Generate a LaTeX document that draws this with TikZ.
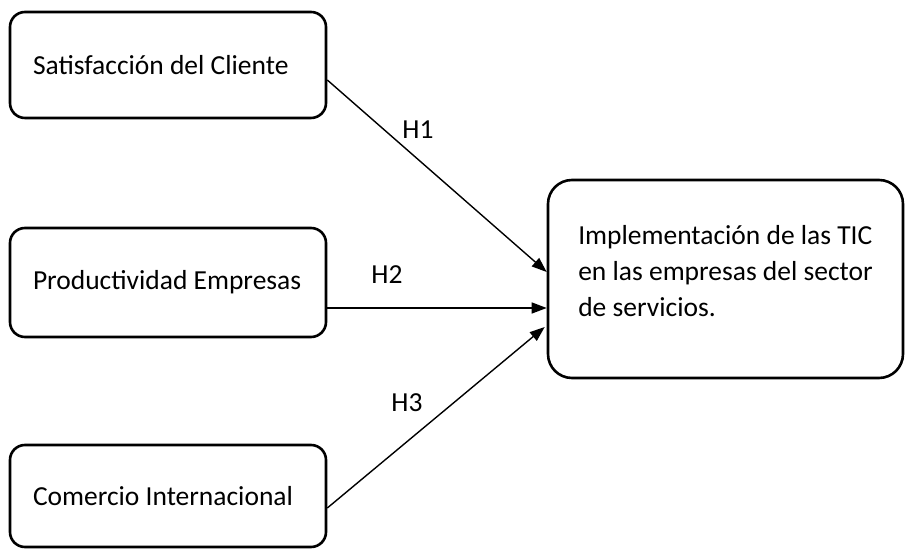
\documentclass[tikz,border=0pt]{standalone}
\usepackage{fontspec}
\setmainfont{Carlito}
\usetikzlibrary{positioning,arrows.meta}

\begin{document}
\begin{tikzpicture}[x=0.5pt,y=-0.5pt,
    box/.style={draw, line width=1.3pt, rounded corners=7.5pt, align=flush left, inner xsep=11.5pt, text width=135pt, minimum width=158pt, font=\fontsize{13.75}{18}\selectfont},
    hyp/.style={-{Triangle[length=7.5pt,width=5.5pt]}, line width=0.7pt},
    lbl/.style={font=\fontsize{13.75}{18}\selectfont}]
    \useasboundingbox (0,0) rectangle (905,549);
    \node[box, minimum height=53pt] (sat) at (168,65) {Satisfacción del Cliente};
    \node[box, minimum height=54.5pt] (prod) at (168,282.5) {Productividad Empresas};
    \node[box, minimum height=51pt] (com) at (168,496) {Comercio Internacional};
    \node[box, text width=, align=left, minimum width=177.5pt, minimum height=99pt, inner xsep=15pt, rounded corners=12pt] (tic) at (725.5,279) {Implementación de las TIC\\en las empresas del sector\\de servicios.\\[-10pt]\mbox{}};
    \draw[hyp] ([yshift=-7.5pt]sat.east) -- ([yshift=3.5pt]tic.west);
    \draw[hyp] ([yshift=-12.75pt]prod.east) -- ([yshift=-14.5pt]tic.west);
    \draw[hyp] ([yshift=-6pt]com.east) -- ([xshift=-1pt,yshift=-24pt]tic.west);
    \node[lbl] (h1) at (418,130) {H1};
    \node[lbl] (h2) at (387,275) {H2};
    \node[lbl] (h3) at (407,403) {H3};
\end{tikzpicture}
\end{document}
